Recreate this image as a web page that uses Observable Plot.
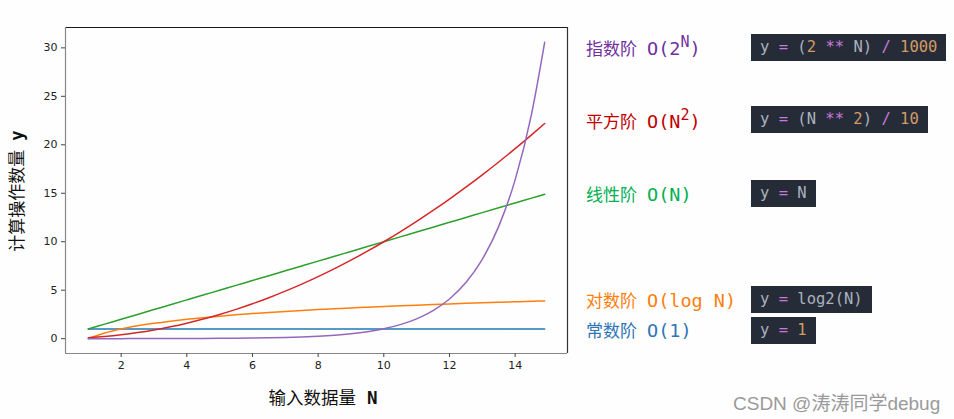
<!DOCTYPE html>
<html>
<head>
<meta charset="utf-8">
<script src="https://cdn.jsdelivr.net/npm/d3@7"></script>
<script src="https://cdn.jsdelivr.net/npm/@observablehq/plot@0.6"></script>
<style>
  html, body { margin: 0; padding: 0; background: #fefefe; }
  #wrap { position: relative; width: 954px; height: 419px; overflow: hidden; font-family: "Noto Sans CJK SC", "DejaVu Sans", sans-serif; }
  .abs { position: absolute; white-space: nowrap; }
  .lab { font-size: 17px; line-height: 20px; }
  .mono { font-family: "DejaVu Sans Mono", monospace; font-size: 18.5px; margin-left: 10px; }
  .sup { font-size: 15px; position: relative; top: -8px; }
  .box { background: #262c37; font-family: "DejaVu Sans Mono", monospace; font-size: 15.5px; color: #abb2bf; padding: 0 9px; height: 27px; line-height: 27px; box-sizing: border-box; }
  .kw { color: #c678dd; }
  .num { color: #d19a66; }
</style>
</head>
<body>
<div id="wrap"></div>
<script>
const N = [1,1.5,2,2.5,3,3.5,4,4.5,5,5.5,6,6.5,7,7.5,8,8.5,9,9.5,10,10.5,11,11.5,12,12.5,13,13.5,14,14.5,14.9];
const constY = [1,1,1,1,1,1,1,1,1,1,1,1,1,1,1,1,1,1,1,1,1,1,1,1,1,1,1,1,1];
const logY = [0,0.585,1,1.322,1.585,1.807,2,2.17,2.322,2.459,2.585,2.7,2.807,2.907,3,3.087,3.17,3.248,3.322,3.392,3.459,3.524,3.585,3.644,3.7,3.755,3.807,3.858,3.897];
const linY = [1,1.5,2,2.5,3,3.5,4,4.5,5,5.5,6,6.5,7,7.5,8,8.5,9,9.5,10,10.5,11,11.5,12,12.5,13,13.5,14,14.5,14.9];
const quadY = [0.1,0.225,0.4,0.625,0.9,1.225,1.6,2.025,2.5,3.025,3.6,4.225,4.9,5.625,6.4,7.225,8.1,9.025,10,11.025,12.1,13.225,14.4,15.625,16.9,18.225,19.6,21.025,22.2];
const expY = [0.002,0.0028,0.004,0.0057,0.008,0.0113,0.016,0.0226,0.032,0.0453,0.064,0.0905,0.128,0.181,0.256,0.362,0.512,0.724,1.024,1.448,2.048,2.896,4.096,5.793,8.192,11.585,16.384,23.17,30.57];

const seriesNames = ["constant", "log", "linear", "quadratic", "exponential"];
const seriesValues = [constY, logY, linY, quadY, expY];
const seriesColors = ["#1f77b4", "#ff7f0e", "#2ca02c", "#d62728", "#9467bd"];

const xTicks = [2,4,6,8,10,12,14];
const yTicks = [0,5,10,15,20,25,30];

const rows = [];
seriesNames.forEach((s, i) => N.forEach((n, j) => rows.push({series: s, N: n, y: seriesValues[i][j]})));

const xDom = [0.305, 15.595];
const yDom = [-1.53, 32.1];

const plot = Plot.plot({
  width: 954,
  height: 419,
  marginLeft: 65,
  marginRight: 387,
  marginTop: 27,
  marginBottom: 66,
  style: { background: "transparent", fontFamily: "DejaVu Sans, sans-serif", fontSize: "11px", color: "#222" },
  x: { domain: xDom, label: null },
  y: { domain: yDom, label: null },
  color: { domain: seriesNames, range: seriesColors },
  marks: [
    Plot.line(rows, { x: "N", y: "y", z: "series", stroke: "series", strokeWidth: 1.5, curve: "monotone-x" }),
    Plot.ruleY([yDom[1]], { stroke: "#1a1a1a", strokeWidth: 1.2 }),
    Plot.ruleX([xDom[1]], { stroke: "#333", strokeWidth: 1.2 }),
    Plot.ruleY([yDom[0]], { stroke: "#888", strokeWidth: 1.2 }),
    Plot.ruleX([xDom[0]], { stroke: "#888", strokeWidth: 1.2 }),
    Plot.axisX({ ticks: xTicks, tickSize: 4, tickPadding: 4, label: null, stroke: "#444", fill: "#222" }),
    Plot.axisY({ ticks: yTicks, tickSize: 4, tickPadding: 4, label: null, stroke: "#444", fill: "#222" })
  ]
});

const wrap = document.getElementById("wrap");
wrap.appendChild(plot);
plot.style.position = "absolute";
plot.style.left = "0px";
plot.style.top = "0px";

function add(html, left, top, cls, extra) {
  const d = document.createElement("div");
  d.className = "abs " + (cls || "");
  d.innerHTML = html;
  d.style.left = left + "px";
  d.style.top = top + "px";
  if (extra) Object.assign(d.style, extra);
  wrap.appendChild(d);
  return d;
}

// axis titles
add('计算操作数量<b style="font-family:DejaVu Sans Mono,monospace;margin-left:9px">y</b>', 16, 191, "lab",
  { transform: "translate(-50%,-50%) rotate(-90deg)", color: "#111", fontSize: "17px" });
add('输入数据量<b style="font-family:DejaVu Sans Mono,monospace;margin-left:11px">N</b>', 323, 397, "lab",
  { transform: "translate(-50%,-50%)", color: "#111", fontSize: "17.5px" });

// annotations (labels on the right)
const labels = [
  { text: '指数阶<span class="mono">O(2<span class="sup">N</span>)</span>', color: "#7030a0", y: 49 },
  { text: '平方阶<span class="mono">O(N<span class="sup">2</span>)</span>', color: "#c00000", y: 122 },
  { text: '线性阶<span class="mono">O(N)</span>', color: "#00b050", y: 194 },
  { text: '对数阶<span class="mono">O(log N)</span>', color: "#ff7f0e", y: 300 },
  { text: '常数阶<span class="mono">O(1)</span>', color: "#2e75b6", y: 330 }
];
labels.forEach(l => add(l.text, 586, l.y, "lab", { color: l.color, transform: "translateY(-50%)" }));

const boxes = [
  { html: 'y <span class="kw">=</span> (<span class="num">2</span> <span class="kw">**</span> N) <span class="kw">/</span> <span class="num">1000</span>', top: 34 },
  { html: 'y <span class="kw">=</span> (N <span class="kw">**</span> <span class="num">2</span>) <span class="kw">/</span> <span class="num">10</span>', top: 106 },
  { html: 'y <span class="kw">=</span> N', top: 180 },
  { html: 'y <span class="kw">=</span> log2(N)', top: 286 },
  { html: 'y <span class="kw">=</span> <span class="num">1</span>', top: 317 }
];
boxes.forEach(b => add(b.html, 751, b.top, "box"));

// watermark
add('CSDN @涛涛同学debug', 733, 388, "", { fontSize: "19px", color: "#9a9a9a", fontFamily: "Liberation Sans, Noto Sans CJK SC, sans-serif" });
</script>
</body>
</html>
